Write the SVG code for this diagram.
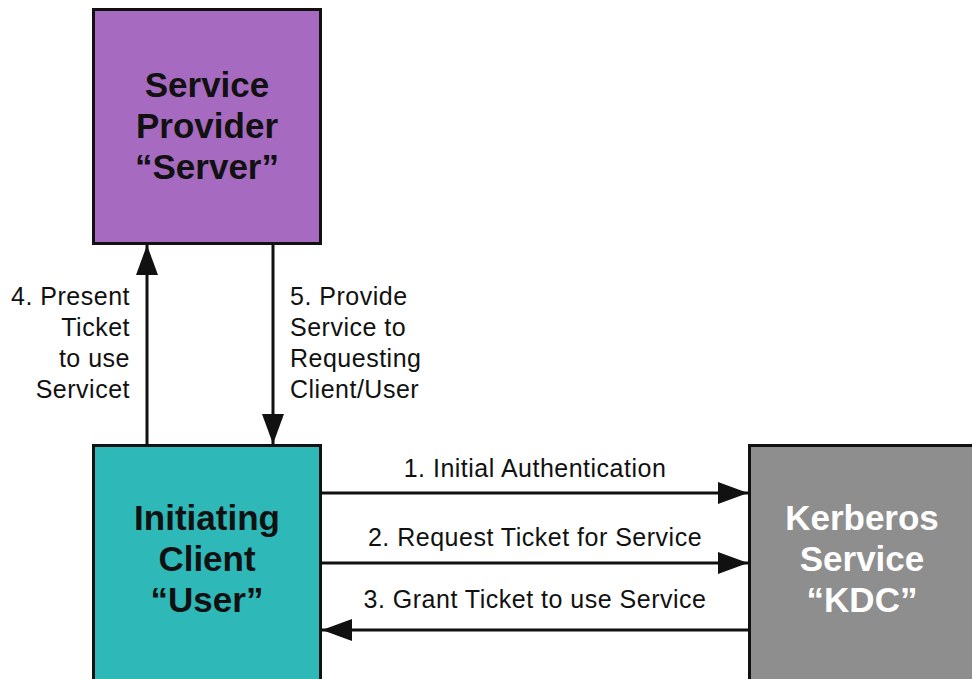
<svg xmlns="http://www.w3.org/2000/svg" width="972" height="679" viewBox="0 0 972 679">
<style>
.box{stroke:#111;stroke-width:3}
.title{font-family:"Liberation Sans",Arial,sans-serif;font-size:35px;font-weight:bold;text-anchor:middle}
.lbl{font-family:"Liberation Sans",Arial,sans-serif;font-size:25px;letter-spacing:0.5px;fill:#111}
.conn{stroke:#111;stroke-width:3;fill:none;marker-end:url(#ah)}
</style>
<defs>
<marker id="ah" markerUnits="userSpaceOnUse" markerWidth="32" markerHeight="24" refX="30" refY="11" orient="auto">
<path d="M0,0 L30,11 L0,22 Z" fill="#111"/>
</marker>
</defs>
<rect width="972" height="679" fill="#fff"/>
<g id="connectors">
<line class="conn" x1="147" y1="445" x2="147" y2="245"/>
<line class="conn" x1="273" y1="244" x2="273" y2="444"/>
<line class="conn" x1="321" y1="493" x2="748" y2="493"/>
<line class="conn" x1="321" y1="563" x2="748" y2="563"/>
<line class="conn" x1="749" y1="630" x2="322" y2="630"/>
<text class="lbl" text-anchor="end"><tspan x="130" y="305">4. Present</tspan><tspan x="130" y="336">Ticket</tspan><tspan x="130" y="367">to use</tspan><tspan x="130" y="398">Servicet</tspan></text>
<text class="lbl"><tspan x="290" y="305">5. Provide</tspan><tspan x="290" y="336">Service to</tspan><tspan x="290" y="367">Requesting</tspan><tspan x="290" y="398">Client/User</tspan></text>
<text class="lbl" x="535" y="477" text-anchor="middle">1. Initial Authentication</text>
<text class="lbl" x="535" y="546" text-anchor="middle">2. Request Ticket for Service</text>
<text class="lbl" x="535" y="608" text-anchor="middle">3. Grant Ticket to use Service</text>
</g>
<g id="server">
<rect class="box" x="93.500" y="9.500" width="227" height="234" fill="#A66BC0"/>
<text class="title" fill="#111"><tspan x="207" y="97">Service</tspan><tspan x="207" y="138">Provider</tspan><tspan x="207" y="179">“Server”</tspan></text>
</g>
<g id="client">
<rect class="box" x="93.500" y="445.500" width="227" height="240" fill="#2EB8B8"/>
<text class="title" fill="#111"><tspan x="207" y="530">Initiating</tspan><tspan x="207" y="571">Client</tspan><tspan x="207" y="612">“User”</tspan></text>
</g>
<g id="kdc">
<rect class="box" x="749.500" y="445.500" width="230" height="240" fill="#8E8E8E"/>
<text class="title" fill="#fff"><tspan x="862" y="530">Kerberos</tspan><tspan x="862" y="571">Service</tspan><tspan x="862" y="612">“KDC”</tspan></text>
</g>
</svg>
